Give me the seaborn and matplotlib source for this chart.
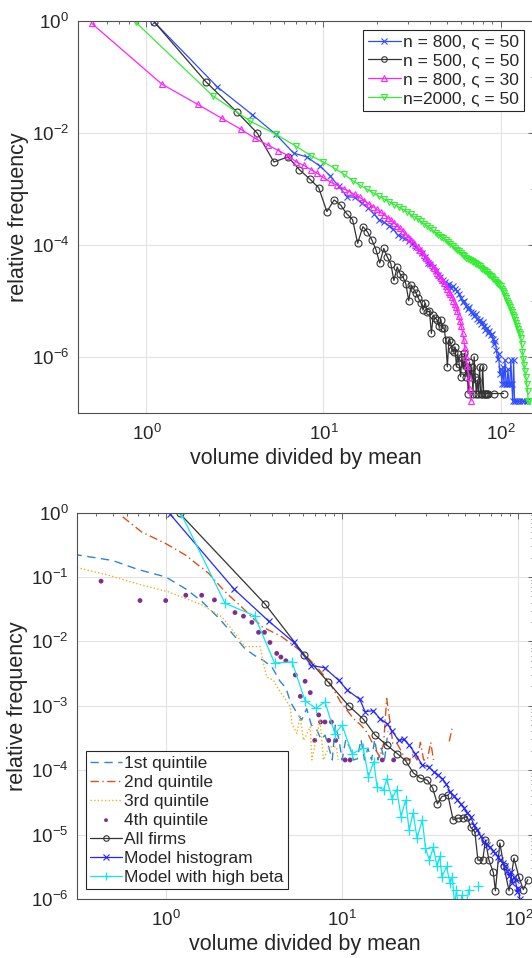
import numpy as np
import pandas as pd
import matplotlib
matplotlib.use('Agg')
import matplotlib.pyplot as plt
import seaborn as sns
from matplotlib.ticker import FixedLocator, LogLocator, LogFormatterSciNotation, NullFormatter

# ---------------- top panel data ----------------
blue800_x = [1.11, 2.51, 3.96, 5.37, 6.8, 8.05, 9.6, 10.9, 12.2,
             13.6, 15.0, 16.4, 17.8, 19.2, 20.6, 22.0, 23.4, 24.8, 26.2,
             27.6, 29.0, 30.4, 31.8, 33.2, 34.6, 36.0, 37.4, 38.8, 40.2,
             41.6, 43.0, 44.4, 45.8, 47.2, 48.6, 50.0, 51.4, 52.8, 54.2,
             55.6, 57.0, 58.4, 59.8, 61.2, 62.6, 64.0, 65.4, 66.8, 68.2,
             69.6, 71.0, 72.4, 73.8, 75.2, 76.6, 78.0, 79.4, 80.8, 82.2,
             83.6, 85.0, 86.4, 87.8, 89.2, 90.6, 92.0, 93.4, 94.8, 96.2,
             97.6, 99.0, 100.4, 101.8, 103.2, 104.6, 106.0, 107.4, 108.8, 110.2,
             111.6, 113.0, 114.4, 115.8, 117.2, 118.6, 120.0, 121.4,
             124, 128, 132, 136, 141]
blue800_y = [0.94, 0.066, 0.021, 0.0094, 0.0043, 0.0037, 0.0025, 0.0017, 0.0011,
             7.2e-4, 7.0e-4, 5.5e-4, 4.6e-4, 3.6e-4, 2.8e-4, 2.5e-4, 2.2e-4, 1.9e-4, 1.5e-4,
             1.4e-4, 1.3e-4, 1.15e-4, 1.05e-4, 9.2e-5, 8.0e-5, 7.2e-5, 6.0e-5, 4.8e-5, 4.6e-5,
             4.0e-5, 3.4e-5, 2.9e-5, 2.6e-5, 2.3e-5, 2.2e-5, 1.9e-5, 2.0e-5, 1.7e-5, 1.8e-5,
             1.6e-5, 1.5e-5, 1.3e-5, 1.1e-5, 9.5e-6, 1.0e-5, 8.2e-6, 7.2e-6, 7.6e-6, 6.4e-6,
             6.0e-6, 5.4e-6, 5.7e-6, 4.8e-6, 4.3e-6, 4.6e-6, 3.9e-6, 4.1e-6, 3.5e-6, 3.0e-6,
             3.3e-6, 2.7e-6, 2.9e-6, 2.4e-6, 2.5e-6, 2.1e-6, 1.7e-6, 1.9e-6, 1.3e-6, 9e-7,
             1.1e-6, 5e-7, 6e-7, 3.3e-7, 6.5e-7, 3.3e-7, 8.7e-7, 3.3e-7, 3.3e-7, 6e-7,
             3.3e-7, 3.3e-7, 8.7e-7, 3.3e-7, 1.6e-7, 8.7e-7, 1.6e-7, 1.6e-7,
             1.6e-7, 1.6e-7, 1.6e-7, 1.6e-7, 1.6e-7]

black500_x = [1.11, 2.16, 3.23, 4.23, 5.25, 6.3, 7.3, 8.35, 9.4, 10.45,
              11.5, 12.5, 13.5, 14.6, 15.6, 16.7, 17.7, 18.8, 19.8, 20.8,
              21.9, 22.9, 24.0, 25.0, 26.1, 27.1, 28.2, 29.2, 30.3, 31.3,
              32.4, 33.4, 34.4, 35.5, 36.5, 37.6, 38.6, 39.7, 40.7, 41.7,
              42.8, 43.8, 44.9, 45.9, 47.0, 48.0, 49.0, 50.1, 51.1, 52.2,
              53.2, 54.3, 55.3, 56.4, 57.4, 58.4, 59.5, 60.5, 61.6, 62.6,
              63.7, 64.7, 65.7, 66.8, 67.8, 68.9, 69.9, 71.0, 72.0, 73.0,
              74.1, 75.1, 76.2, 77.2, 78.3, 79.3, 80.4, 81.4, 82.5, 83.5,
              84.5, 91.6, 104]
black500_y = [0.94, 0.082, 0.0237, 0.0098, 0.003, 0.0037, 0.0022, 0.0015, 0.00104, 3.9e-4,
              6.3e-4, 5.1e-4, 3.6e-4, 2.8e-4, 1.06e-4, 2.1e-4, 1.7e-4, 1.2e-4, 8.1e-5, 4.7e-5,
              8.6e-5, 6.1e-5, 4.6e-5, 2.3e-5, 4.0e-5, 3.0e-5, 2.6e-5, 2.0e-5, 1.0e-5, 1.9e-5,
              1.6e-5, 1.35e-5, 1.1e-5, 9.2e-6, 6.8e-6, 9.0e-6, 6.3e-6, 6.5e-6, 2.6e-6, 5.5e-6,
              4.9e-6, 4.5e-6, 3.5e-6, 4.6e-6, 3.2e-6, 3.3e-6, 2.0e-6, 6.6e-7, 2.0e-6, 1.8e-6,
              1.3e-6, 1.2e-6, 1.5e-6, 6.6e-7, 1.1e-6, 7.5e-7, 4.4e-7, 1.0e-6, 6.0e-7, 1.15e-6,
              4.4e-7, 6.6e-7, 2.2e-7, 8.0e-7, 4.4e-7, 6.6e-7, 2.2e-7, 1.0e-6, 4.4e-7, 2.2e-7,
              3.8e-7, 2.2e-7, 6.6e-7, 2.2e-7, 2.2e-7, 6.6e-7, 2.2e-7, 2.2e-7, 2.2e-7, 2.2e-7,
              2.2e-7, 2.2e-7, 2.2e-7]

magenta800_x = [0.49, 1.22, 1.95, 2.67, 3.4, 4.12, 4.85, 5.57, 6.3, 7.02, 7.75, 8.47, 9.2, 9.92,
                11, 12, 13, 14, 15, 16, 17, 18, 19, 20, 21, 22, 23, 24, 25, 26, 27, 28, 29, 30,
                31, 32, 33, 34, 35, 36, 37, 38, 39, 40, 41, 42, 43, 44, 45, 46, 47, 48, 49, 50,
                51, 52, 53, 54, 55, 56, 57, 58, 59, 60, 61, 62, 63, 64, 65, 66, 67, 68]
magenta800_y = [0.9, 0.074, 0.032, 0.018, 0.0116, 0.0079, 0.006, 0.0048, 0.0039, 0.003,
                0.0026, 0.0022, 0.0019, 0.0016,
                1.3e-3, 1.15e-3, 1.0e-3, 8.9e-4, 7.9e-4, 7.0e-4, 6.1e-4, 5.4e-4, 4.8e-4, 4.3e-4,
                3.8e-4, 3.4e-4, 3.05e-4, 2.75e-4, 2.45e-4, 2.2e-4, 1.95e-4, 1.75e-4, 1.55e-4, 1.4e-4,
                1.25e-4, 1.12e-4, 1.0e-4, 9.0e-5, 8.1e-5, 7.3e-5, 6.6e-5, 5.9e-5, 5.3e-5, 4.8e-5,
                4.3e-5, 3.9e-5, 3.5e-5, 3.15e-5, 2.85e-5, 2.55e-5, 2.3e-5, 2.05e-5, 1.85e-5, 1.65e-5,
                1.45e-5, 1.3e-5, 1.15e-5, 1.0e-5, 8.8e-6, 7.6e-6, 6.5e-6, 5.4e-6, 4.4e-6, 3.5e-6,
                2.7e-6, 2.0e-6, 1.45e-6, 1.0e-6, 6.8e-7, 4.3e-7, 2.6e-7, 1.6e-7]

green2000_x = [0.87, 2.38, 3.87, 5.37, 6.96, 8.47, 10.0,
               11.6, 13.1, 14.6, 16.1, 17.6, 19.1, 20.6, 22.1, 23.6, 25.1,
               26.6, 28.1, 29.6, 31.1, 32.6, 34.1, 35.6, 37.1, 38.6, 40.1,
               41.6, 43.1, 44.6, 46.1, 47.6, 49.1, 50.6, 52.1, 53.6, 55.1,
               56.6, 58.1, 59.6, 61.1, 62.6, 64.1, 65.6, 67.1, 68.6, 70.1,
               71.6, 73.1, 74.6, 76.1, 77.6, 79.1, 80.6, 82.1, 83.6, 85.1,
               86.6, 88.1, 89.6, 91.1, 92.6, 94.1, 95.6, 97.1, 98.6, 100.1,
               101.6, 103.1, 104.6, 106.1, 107.6, 109.1, 110.6, 112.1, 113.6, 115.1,
               116.6, 118.1, 119.6, 121.1, 122.6, 124.1, 125.6, 127.1, 128.6, 130.1,
               131.6, 133.1, 134.6, 136.1, 137.6, 139.1, 140.6, 142.1, 143.6, 145.1]
green2000_y = [0.94, 0.045, 0.016, 0.0094, 0.0058, 0.0039, 0.003,
               0.0023, 0.0018, 0.0014, 0.00115, 9.8e-4, 8.4e-4, 7.3e-4, 6.5e-4, 5.8e-4, 5.2e-4,
               4.7e-4, 4.3e-4, 3.9e-4, 3.5e-4, 3.15e-4, 2.85e-4, 2.6e-4, 2.35e-4, 2.15e-4, 1.95e-4,
               1.8e-4, 1.65e-4, 1.5e-4, 1.4e-4, 1.3e-4, 1.2e-4, 1.1e-4, 1.02e-4, 9.5e-5, 8.8e-5,
               8.2e-5, 7.6e-5, 7.1e-5, 6.6e-5, 6.2e-5, 5.9e-5, 5.6e-5, 5.4e-5, 5.2e-5, 5.0e-5,
               4.8e-5, 4.55e-5, 4.3e-5, 4.1e-5, 3.9e-5, 3.7e-5, 3.5e-5, 3.35e-5, 3.2e-5, 3.05e-5,
               2.9e-5, 2.75e-5, 2.6e-5, 2.45e-5, 2.3e-5, 2.2e-5, 2.1e-5, 2.0e-5, 1.9e-5, 1.8e-5,
               1.65e-5, 1.5e-5, 1.35e-5, 1.2e-5, 1.1e-5, 1.0e-5, 9.2e-6, 8.4e-6, 7.6e-6, 6.9e-6,
               6.2e-6, 5.6e-6, 5.2e-6, 4.6e-6, 4.0e-6, 3.5e-6, 3.1e-6, 2.8e-6, 2.5e-6, 2.2e-6,
               1.7e-6, 1.2e-6, 9e-7, 7e-7, 5.5e-7, 4.3e-7, 3.3e-7, 2.4e-7, 1.6e-7, 1.6e-7]

top_labels = ['n = 800, \u03c2 = 50', 'n = 500, \u03c2 = 50',
              'n = 800, \u03c2 = 30', 'n=2000, \u03c2 = 50']

# ---------------- bottom panel data ----------------
q1_x = [0.3, 0.5, 0.7, 1.0, 1.3, 1.6, 2.0, 2.4, 2.8, 3.2, 3.6, 4.0, 4.45, 4.8, 5.1, 5.5,
        5.9, 6.3, 6.7, 7.2, 7.6, 8.0, 8.4, 8.8, 9.15, 9.6, 10.0, 10.5, 11.1, 11.6, 12.2,
        12.8, 13.4, 14.0, 14.7, 15.3, 16.0, 16.7, 17.4, 18.2]
q1_y = [0.225, 0.18, 0.13, 0.1, 0.065, 0.042, 0.023, 0.013, 0.0078, 0.006, 0.005, 0.004,
        0.0024, 0.0019, 0.00114, 8e-4, 6e-4, 9e-4, 5e-4, 4.2e-4, 3e-4, 3.5e-4, 2.3e-4,
        1.44e-4, 5e-4, 3e-4, 1.44e-4, 3e-4, 2.2e-4, 1.44e-4, 1.5e-4, 3e-4, 1.44e-4, 2.2e-4,
        1.44e-4, 3e-4, 1.44e-4, 2.2e-4, 1.44e-4, 4e-4]

q2_x = [0.57, 0.73, 1.0, 1.29, 1.75, 2.17, 2.7, 3.5, 4.55, 5.9, 7.2, 8.4, 9.8, 11.6, 12.8,
        13.9, 14.8, 15.6, 16.4, 17.2, 17.9, 18.7, 19.4, 20.5, 21.6, 22.9, 24.2, 25.4, 26.6,
        27.8, 29.0, 30.4, 31.8, 33.0, 36.0, 40.5, 42.0]
q2_y = [0.86, 0.5, 0.33, 0.22, 0.114, 0.059, 0.034, 0.017, 0.0118, 0.0069, 0.004, 0.0024,
        0.00115, 6.3e-4, 5e-4, 3.8e-4, 2.7e-4, 2e-4, 1.6e-4, 2.6e-4, 1.3e-3, 5.6e-4, 2.6e-4,
        2.6e-4, 2e-4, 1.44e-4, 1.44e-4, 1.8e-4, 1.44e-4, 2.7e-4, 1.44e-4, 1.44e-4, 2.7e-4,
        1.44e-4, np.nan, 2.8e-4, 4.4e-4]

q3_x = [0.3, 0.47, 0.73, 1.03, 1.6, 2.08, 2.47, 2.82, 3.08, 3.43, 3.58, 3.74, 4.08, 4.26,
        4.65, 5.08, 5.19, 5.54, 5.78, 6.05, 6.6, 6.74, 7.04, 7.5, 7.84, 8.4, 9.3, 9.5]
q3_y = [0.144, 0.107, 0.075, 0.059, 0.037, 0.024, 0.0133, 0.0083, 0.0083, 0.0083, 0.0046,
        0.0028, 0.0025, 0.002, 0.0014, 9.7e-4, 5.3e-4, 3.7e-4, 6.8e-4, 2.9e-4, 4.7e-4,
        1.44e-4, 2.6e-4, 6e-4, 1.44e-4, 2.3e-4, 2.3e-4, 1.44e-4]

q4_x = [0.43, 0.715, 1.0, 1.3, 1.6, 1.89, 2.47, 2.76, 3.08, 3.36, 3.63, 3.9, 4.26, 4.5,
        4.8, 5.43, 5.8, 6.17, 6.6, 7.0, 7.37, 7.55, 8.0, 8.4, 8.7, 9.2, 10.4, 11.1, 16.9, 19.6]
q4_y = [0.086, 0.043, 0.043, 0.052, 0.052, 0.044, 0.028, 0.0246, 0.0197, 0.0138, 0.0138,
        0.0096, 0.0065, 0.0057, 0.005, 0.003, 0.0014, 0.0024, 0.0016, 2.9e-4, 7.2e-4,
        5.6e-4, 5.6e-4, 2.9e-4, 5.6e-4, 2.9e-4, 1.44e-4, 1.44e-4, 1.44e-4, 1.44e-4]

all_x = [1.2, 3.67, 6.1, 8.37, 10.9, 13.2, 15.4, 17.9, 20.6, 22.9, 25.4, 27.8, 30.4, 32.6,
         34.7, 36.8, 39.8, 42.6, 45.2, 48.4, 51.2, 53.5, 56.6, 58.9, 62.7, 65.0, 68.0, 72.0,
         74.0, 78.4, 82.7, 88.4, 94.3, 100.5, 106.5, 113.0]
all_y = [0.97, 0.0376, 0.0062, 0.0023, 0.001, 6.2e-4, 3.5e-4, 2.45e-4, 1.8e-4, 1.4e-4, 9e-5,
         7.5e-5, 7e-5, 5.3e-5, 3e-5, 3.9e-5, 4.1e-5, 1.7e-5, 1.8e-5, 1.8e-5, 1.9e-5, 1.3e-5,
         1.1e-5, 4e-6, 4e-6, 8.2e-6, 4e-6, 2.6e-6, 1.34e-6, 7.4e-6, 3.2e-6, 1.34e-6, 4.3e-6,
         2.2e-6, 1.4e-6, 2e-6]

hist_x = [1.06, 2.45, 3.83, 5.31, 6.7, 7.95, 9.55, 10.7, 12.6, 13.5, 15.0, 16.4, 18.0, 19.3,
          20.9, 22.4, 24.0, 26.0, 28.5, 30.9, 33.0, 35.0, 37.0, 39.0, 41.0, 43.0, 45.0, 47.0,
          49.0, 51.0, 53.5, 56.0, 58.3, 61.0, 63.4, 66.0, 69.2, 71.5, 73.8, 76.5, 79.0, 81.5,
          84.2, 86.3, 88.4, 90.2, 92.0, 94.0, 96.2, 98.3, 100.0, 101.8, 103.5]
hist_y = [0.94, 0.064, 0.0207, 0.0097, 0.0042, 0.0039, 0.0025, 0.00175, 0.00126, 8.1e-4,
          8.4e-4, 6.3e-4, 5.3e-4, 4.0e-4, 2.9e-4, 3.0e-4, 2.45e-4, 1.8e-4, 1.2e-4, 1.13e-4,
          9.5e-5, 8.4e-5, 7.4e-5, 6.0e-5, 4.6e-5, 4.0e-5, 3.5e-5, 3.0e-5, 2.6e-5, 2.2e-5,
          1.9e-5, 1.4e-5, 1.17e-5, 9.5e-6, 7.8e-6, 7.0e-6, 6.4e-6, 5.6e-6, 5.1e-6, 4.5e-6,
          4.0e-6, 3.6e-6, 3.2e-6, 2.7e-6, 2.3e-6, 2.6e-6, 1.75e-6, 2.2e-6, 1.95e-6, 1.3e-6,
          1.5e-6, 1.0e-6, 7e-7]

beta_x = [1.22, 2.17, 3.19, 4.14, 5.2, 6.17, 7.1, 8.0, 9.1, 10.0, 11.4, 13.2, 14.1, 15.1,
          15.8, 17.2, 17.9, 19.2, 20.4, 21.6, 22.9, 24.0, 25.3, 26.6, 28.5, 29.7, 31.3, 32.9,
          34.5, 35.8, 36.8, 39.1, 40.9, 42.1, 43.5, 44.5, 46.0, 47.8, 50.0, 52.2, 55.0, 59.2]
beta_y = [0.97, 0.039, 0.025, 0.0046, 0.0048, 0.0012, 9.1e-4, 0.00115, 3.7e-4, 5e-4, 1.8e-4,
          2.2e-4, 7.9e-5, 1.35e-4, 5.5e-5, 5e-5, 7.3e-5, 3.6e-5, 5e-5, 1.9e-5, 3.4e-5, 1.17e-5,
          2.2e-5, 8.7e-6, 1.7e-5, 6.1e-6, 4e-6, 6.4e-6, 3.2e-6, 4.6e-6, 2.2e-6, 3.2e-6, 1.75e-6,
          2.2e-6, 8e-7, 1.4e-6, 6e-7, 1.15e-6, 6e-7, 1.4e-6, np.nan, 1.6e-6]

bottom_labels = ['1st quintile', '2nd quintile', '3rd quintile', '4th quintile',
                 'All firms', 'Model histogram', 'Model with high beta']

# ---------------- style ----------------
sns.set_theme(style='white')
plt.rcParams['font.family'] = ['Liberation Sans', 'DejaVu Sans']
plt.rcParams['mathtext.fontset'] = 'custom'
plt.rcParams['mathtext.rm'] = 'Liberation Sans'
plt.rcParams['mathtext.it'] = 'Liberation Sans:italic'
plt.rcParams['mathtext.bf'] = 'Liberation Sans:bold'

TXT = '#262626'


def draw(ax, xs, ys, color, label, **kw):
    # split at NaN so that empty bins leave gaps, like the original
    x = np.asarray(xs, dtype=float)
    y = np.asarray(ys, dtype=float)
    gap = np.isnan(y)
    seg = np.cumsum(gap)
    first = True
    for s in np.unique(seg[~gap]):
        m = (seg == s) & ~gap
        sns.lineplot(x=x[m], y=y[m], ax=ax, color=color,
                     label=label if first else None,
                     estimator=None, sort=False, **kw)
        first = False


def style_axes(ax):
    ax.set_xscale('log')
    ax.set_yscale('log')
    ax.xaxis.set_major_locator(FixedLocator([1, 10, 100]))
    ax.xaxis.set_minor_locator(LogLocator(base=10, subs=np.arange(2, 10), numticks=20))
    ax.xaxis.set_major_formatter(LogFormatterSciNotation())
    ax.xaxis.set_minor_formatter(NullFormatter())
    ax.grid(True, which='major', color='#e2e2e2', linewidth=0.8)
    ax.grid(False, which='minor')
    for sp in ax.spines.values():
        sp.set_color('#505050')
        sp.set_linewidth(0.8)
    ax.tick_params(which='both', direction='in', top=True, right=True,
                   color='#505050', labelcolor=TXT, labelsize=13.5, width=0.6)
    ax.tick_params(which='major', length=4.5, pad=6)
    ax.tick_params(axis='x', which='major', pad=8)
    ax.tick_params(which='minor', length=2.5)
    ax.set_xlabel('volume divided by mean', fontsize=15.5, color=TXT, labelpad=3)
    ax.set_ylabel('relative frequency', fontsize=15.5, color=TXT, labelpad=2)
    ax.set_axisbelow(True)


fig = plt.figure(figsize=(5.32, 9.58), dpi=100)
ax1 = fig.add_axes([0.1457, 0.5692, 0.8575, 0.4092])
ax2 = fig.add_axes([0.1442, 0.0616, 0.859, 0.4034])

mk = dict(markersize=5, markerfacecolor='none', markeredgewidth=0.8, linewidth=0.9)
legend_kw = dict(borderaxespad=0, fontsize=12.5, handletextpad=0.15, labelspacing=0.22,
                 borderpad=0.25, fancybox=False, framealpha=1, edgecolor=TXT, markerscale=0.8)

# ---------------- top panel ----------------
draw(ax1, blue800_x, blue800_y, '#2f4dff', top_labels[0], marker='x', markeredgecolor='#2f4dff', **mk)
draw(ax1, black500_x, black500_y, '#333333', top_labels[1], marker='o', markeredgecolor='#333333', **mk)
draw(ax1, magenta800_x, magenta800_y, '#ff22ff', top_labels[2], marker='^', markeredgecolor='#ff22ff', **mk)
draw(ax1, green2000_x, green2000_y, '#33ee33', top_labels[3], marker='v', markeredgecolor='#33ee33', **mk)

style_axes(ax1)
ax1.set_xlim(0.408, 154)
ax1.set_ylim(1e-7, 1)
ax1.yaxis.set_major_locator(FixedLocator([1e-6, 1e-4, 1e-2, 1]))
ax1.yaxis.set_minor_locator(FixedLocator([1e-5, 1e-3, 1e-1]))
ax1.yaxis.set_major_formatter(LogFormatterSciNotation())
ax1.yaxis.set_minor_formatter(NullFormatter())
leg1 = ax1.legend(loc='upper right', bbox_to_anchor=(0.978, 0.976), handlelength=1.9, **legend_kw)
leg1.get_frame().set_linewidth(0.8)
for t in leg1.get_texts():
    t.set_color(TXT)

# ---------------- bottom panel ----------------
draw(ax2, q1_x, q1_y, '#2f86c8', bottom_labels[0], linestyle=(0, (6, 4)), linewidth=1.0)
draw(ax2, q2_x, q2_y, '#d95319', bottom_labels[1], linestyle=(0, (6, 2.5, 1, 2.5)), linewidth=1.0)
draw(ax2, q3_x, q3_y, '#edb120', bottom_labels[2], linestyle=(0, (1, 1.6)), linewidth=1.0)
sns.scatterplot(x=q4_x, y=q4_y, ax=ax2, color='#7e2f8e', s=12, marker='o',
                edgecolor='none', label=bottom_labels[3])
draw(ax2, all_x, all_y, '#333333', bottom_labels[4], marker='o', markeredgecolor='#333333', **mk)
draw(ax2, hist_x, hist_y, '#2424ff', bottom_labels[5], marker='x', markeredgecolor='#2424ff', **mk)
draw(ax2, beta_x, beta_y, '#10e6f2', bottom_labels[6], marker='+', markeredgecolor='#10e6f2',
     markersize=7, markeredgewidth=0.9, linewidth=0.9)

style_axes(ax2)
ax2.set_xlim(0.313, 122)
ax2.set_ylim(1e-6, 1)
ax2.yaxis.set_major_locator(FixedLocator([1e-6, 1e-5, 1e-4, 1e-3, 1e-2, 1e-1, 1]))
ax2.yaxis.set_minor_locator(LogLocator(base=10, subs=np.arange(2, 10), numticks=20))
ax2.yaxis.set_major_formatter(LogFormatterSciNotation())
ax2.yaxis.set_minor_formatter(NullFormatter())
leg2 = ax2.legend(loc='lower left', bbox_to_anchor=(0.0204, 0.0259), handlelength=1.8, **legend_kw)
leg2.get_frame().set_linewidth(0.8)
for t in leg2.get_texts():
    t.set_color(TXT)

fig.savefig('out.png', dpi=100)
